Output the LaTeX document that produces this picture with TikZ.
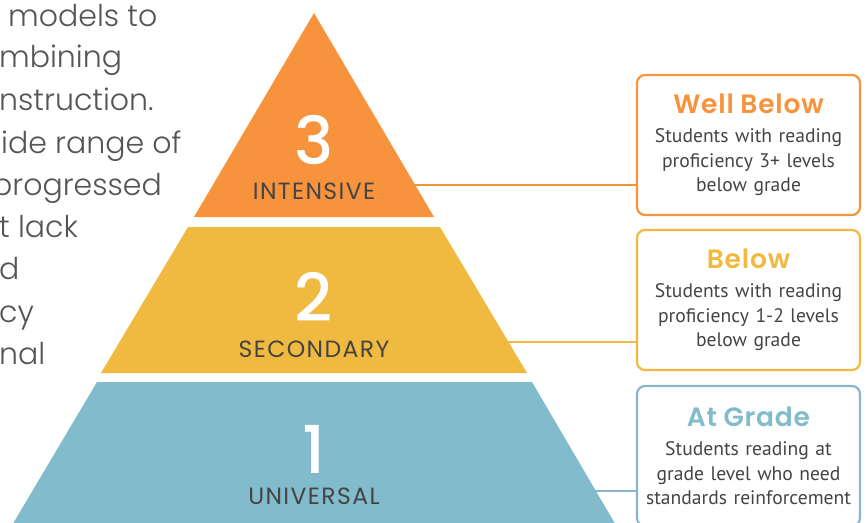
\documentclass[tikz,border=0pt]{standalone}
\usepackage{fontspec}
\setmainfont{PT Sans}
\IfFontExistsTF{Poppins Light}{\newfontfamily\parafont{Poppins Light}}{\newfontfamily\parafont{Poppins}}
\IfFontExistsTF{Poppins Medium}{\newfontfamily\numfont{Poppins Medium}}{\newfontfamily\numfont{Poppins}}
\IfFontExistsTF{Poppins SemiBold}{\newfontfamily\headfont{Poppins SemiBold}[LetterSpace=3]}{\newfontfamily\headfont{Poppins}[LetterSpace=3]}
\newfontfamily\tierfont{Poppins}[LetterSpace=6]
\usetikzlibrary{positioning,calc}

\definecolor{tierorange}{HTML}{F7923D}
\definecolor{tieryellow}{HTML}{F0BA40}
\definecolor{tierblue}{HTML}{82BBCB}
\definecolor{boxblue}{HTML}{8AB6CC}
\definecolor{labelgray}{HTML}{444444}
\definecolor{paragray}{HTML}{555555}

\tikzset{
  paratext/.style={anchor=base west, inner sep=0pt, text=paragray, font=\parafont\fontsize{30}{30}\selectfont},
  tiernum/.style={anchor=base, inner sep=0pt, text height=47pt, text depth=0pt, text=white, font=\numfont\fontsize{66}{66}\selectfont},
  tiername/.style={anchor=base, inner sep=0pt, text height=17pt, text depth=0pt, text=labelgray, font=\tierfont\fontsize{23.5}{23.5}\selectfont},
  levelbox/.style={draw, line width=2.2pt, rounded corners=8pt, minimum width=223pt, minimum height=140pt,
    text width=220pt, align=center, inner sep=0pt, text=labelgray, font=\fontsize{19.6}{24.5}\selectfont},
  link/.style={line width=1.8pt}
}
\newcommand{\boxhead}[2]{{\headfont\fontsize{26.5}{29}\selectfont\color{#1}#2\par}\vspace{4.5pt}}

\begin{document}
\begin{tikzpicture}[x=1pt,y=-1pt]
\useasboundingbox (0,0) rectangle (866,522);
\clip (0,0) rectangle (866,522);

% Paragraph cut by the left edge
\foreach \txt/\xs/\yb [count=\i] in {models to/8/26, mbining/-1/67, nstruction./-1/110, ide range of/1/153,
    progressed/-8/195, t lack/-1/237, d/-1/279, cy/-1/322, nal/-1/364}
  \node[paratext] (para\i) at (\xs,\yb) {\txt};

% Pyramid tiers
\fill[tierorange] (314,13) -- (434,217) -- (194,217) -- cycle;
\fill[tieryellow] (188,227) -- (440,227) -- (527,373) -- (101,373) -- cycle;
\fill[tierblue] (97,382) -- (532,382) -- (617,527) -- (11,527) -- cycle;

\node[tiernum] (num3) at (314,164) {3};
\node[tiername] (name3) at (314,199) {INTENSIVE};
\node[tiernum] (num2) at (314,321) {2};
\node[tiername] (name2) at (314,357) {SECONDARY};
\node[tiernum] (num1) at (314,473) {1};
\node[tiername] (name1) at (314,504) {UNIVERSAL};

% Connector ends on the tier edges
\coordinate (edge3) at (414,185);
\coordinate (edge2) at (506,342);
\coordinate (edge1) at (592,491);

% Proficiency boxes
\node[levelbox, draw=tierorange] (box3) at (748.5,145) {\boxhead{tierorange}{Well Below}Students with reading\\proficiency 3+ levels\\below grade};
\node[levelbox, draw=tieryellow] (box2) at (748.5,300) {\boxhead{tieryellow}{Below}Students with reading\\proficiency 1-2 levels\\below grade};
\node[levelbox, draw=boxblue] (box1) at (748.5,456) {\boxhead{tierblue}{At Grade}Students reading at\\grade level who need\\standards reinforcement};

\draw[link, tierorange] (edge3) -- (edge3 -| box3.west);
\draw[link, tieryellow] (edge2) -- (edge2 -| box2.west);
\draw[link, boxblue] (edge1) -- (edge1 -| box1.west);
\end{tikzpicture}
\end{document}
